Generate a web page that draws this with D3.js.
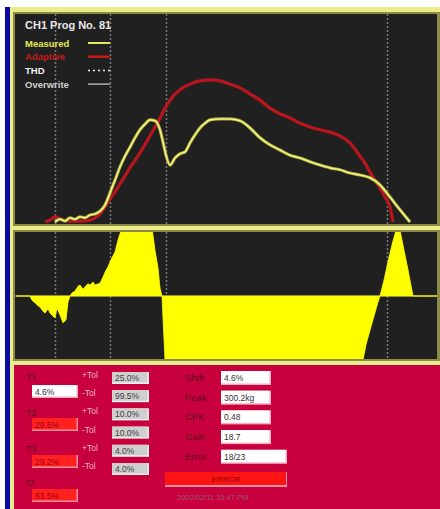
<!DOCTYPE html>
<html><head><meta charset="utf-8">
<script src="https://cdn.jsdelivr.net/npm/d3@7"></script>
<style>html,body{margin:0;padding:0;background:#fff;}svg{display:block;font-family:Arial,"Liberation Sans",sans-serif;}</style>
</head><body>
<svg id="c" width="440" height="509"></svg>
<script>
// ---- data ----
const title = "CH1 Prog No. 81";
const legendNames = ["Measured", "Adaptive", "THD", "Overwrite"];
const gridSamples = [39, 94, 150, 371];

const measuredX = [39,44,49,54,59,64,69,74,79,84,89,94,99,104,109,114,119,124,129,134,139,144,147,150,154,159,164,169,174,179,184,189,194,204,214,224,234,244,254,264,274,284,294,304,314,324,334,344,354,364,374,384,394];
const measuredY = [0,6,2,9,6,11,9,15,17,23,36,62,89,117,140,159,179,196,208,217,215,196,170,142,121,136,145,149,168,185,200,210,217,219,219,215,200,179,164,153,142,136,128,121,115,111,104,100,94,79,53,26,0];

const adaptiveX = [29,34,39,44,54,64,74,79,84,89,94,99,104,114,124,134,144,149,154,164,174,184,194,204,214,224,234,244,254,264,274,284,294,304,314,324,334,339,344,349,354,359,364,369,374,377];
const adaptiveY = [0,4,11,6,2,2,4,9,17,32,49,64,81,115,147,183,221,242,259,281,293,300,302,300,293,285,272,259,242,230,221,210,202,196,191,183,168,155,140,125,106,89,72,53,32,0];

const deviationX = [0,14,16,19,22,24,27,29,32,34,37,39,41,44,47,50,52,54,56,59,62,64,67,69,72,74,77,79,84,87,89,92,94,97,99,102,104,106,136,139,142,144,146,147,149,347,350,354,358,362,364,368,372,376,380,384,388,392,397,421];
const deviationY = [0,0,-7,-11,-16,-18,-25,-28,-21,-28,-33,-36,-20,-31,-44,-39,-10,0,5,8,16,18,11,15,20,18,23,18,21,31,39,48,56,66,72,92,102,112,112,75,46,13,0,-36,-105,-105,-80,-56,-33,-10,0,26,56,84,108,108,75,43,0,0];

const panelLeft = [
  {label:"T1", value:"4.6%", kind:"white"},
  {label:"T2", value:"29.5%", kind:"red"},
  {label:"T3", value:"29.2%", kind:"red"},
  {label:"t0", value:"63.5%", kind:"red"}
];
const tolLabels = ["+Tol","-Tol","+Tol","-Tol","+Tol","-Tol"];
const tolValues = ["25.0%","99.5%","10.0%","10.0%","4.0%","4.0%"];
const statLabels = ["Shift","Peak","CPK","Gain","Error"];
const statValues = ["4.6%","300.2kg","0.48","18.7","18/23"];
const statusText = "ERROR";
const dateText = "2002/02/11 10:47 PM";

// ---- drawing ----
const svg = d3.select("#c");
const x = d3.scaleLinear().domain([0, 421]).range([16, 437]);
const yTop = d3.scaleLinear().domain([0, 440]).range([222, 15]);
const yBot = d3.scaleLinear().domain([-100, 100]).range([357, 235]);

// frame
svg.append("rect").attr("x",5).attr("y",7).attr("width",5).attr("height",502).attr("fill","#0a0aa0");
svg.append("rect").attr("x",10).attr("y",7).attr("width",430).attr("height",502).attr("fill","#ecec8e");
svg.append("rect").attr("x",13).attr("y",12).attr("width",427).attr("height",214).attr("fill","#8c8c44");
svg.append("rect").attr("x",13).attr("y",230).attr("width",427).attr("height",131).attr("fill","#8c8c44");
svg.append("rect").attr("x",15).attr("y",14).attr("width",422).attr("height",210).attr("fill","#202020");
svg.append("rect").attr("x",15).attr("y",232).attr("width",422).attr("height",127).attr("fill","#202020");
svg.append("rect").attr("x",14).attr("y",365).attr("width",426).attr("height",144).attr("fill","#c8003e");

const defs = svg.append("defs");
defs.append("clipPath").attr("id","clipTop").append("rect").attr("x",15).attr("y",14).attr("width",422).attr("height",210);
defs.append("clipPath").attr("id","clipBot").append("rect").attr("x",15).attr("y",232).attr("width",422).attr("height",127);

// grids
const gTop = svg.append("g").attr("clip-path","url(#clipTop)");
const gBot = svg.append("g").attr("clip-path","url(#clipBot)");
[gTop, gBot].forEach((g,i) => {
  g.selectAll("line.grid").data(gridSamples).enter().append("line")
    .attr("x1", d=>x(d)+0.5).attr("x2", d=>x(d)+0.5)
    .attr("y1", i===0?14:232).attr("y2", i===0?224:359)
    .attr("stroke","#7a7a7a").attr("stroke-width",1.5).attr("stroke-dasharray","2,2");
});

// lower deviation area
const dev = deviationX.map((d,i)=>({x:d, y:deviationY[i]}));
gBot.append("line").attr("x1",15).attr("x2",437).attr("y1",yBot(0)).attr("y2",yBot(0)).attr("stroke","#8a8a70").attr("stroke-width",1);
gBot.append("path").datum(dev)
  .attr("d", d3.area().x(d=>x(d.x)).y0(yBot(0)).y1(d=>yBot(d.y)))
  .attr("fill","#ffff00").attr("stroke","#ffff00").attr("stroke-width",0.8);

// upper curves
const meas = measuredX.map((d,i)=>({x:d, y:measuredY[i]}));
const adap = adaptiveX.map((d,i)=>({x:d, y:adaptiveY[i]}));
const line = d3.line().x(d=>x(d.x)).y(d=>yTop(d.y)).curve(d3.curveMonotoneX);
gTop.append("path").datum(adap).attr("d",line).attr("fill","none").attr("stroke","#b8161c").attr("stroke-width",3.2).attr("stroke-linejoin","round");
gTop.append("path").datum(meas).attr("d",line).attr("fill","none").attr("stroke","#a4a440").attr("stroke-width",3.2).attr("stroke-linejoin","round");
gTop.append("path").datum(meas).attr("d",line).attr("fill","none").attr("stroke","#f2f27c").attr("stroke-width",1.6).attr("stroke-linejoin","round");

// legend
svg.append("text").attr("x",25).attr("y",29).attr("fill","#e8e8e8").attr("font-weight","bold").attr("font-size",11).text(title);
const legColors = ["#e6e65a","#c81818","#f0f0f0","#cfcfcf"];
const legDash = [null,null,"2,3",null];
const legWidth = [2,2.5,1.5,1.2];
legendNames.forEach((n,i)=>{
  const yy = 43 + i*13.7;
  svg.append("text").attr("x",25).attr("y",yy+3.5).attr("fill",legColors[i]).attr("font-weight","bold").attr("font-size",9.5).text(n);
  svg.append("line").attr("x1",88).attr("x2",110).attr("y1",yy).attr("y2",yy)
    .attr("stroke",legColors[i]).attr("stroke-width",legWidth[i]).attr("stroke-dasharray",legDash[i]);
});

// panel
const panel = svg.append("g").attr("font-size",9);
function box(px, py, w, h, fill, txt, txtColor, border){
  panel.append("rect").attr("x",px).attr("y",py).attr("width",w).attr("height",h).attr("fill",border);
  panel.append("rect").attr("x",px).attr("y",py).attr("width",w-1.5).attr("height",h-1.5).attr("fill",fill);
  panel.append("text").attr("x",px+3).attr("y",py+h/2+3).attr("fill",txtColor).attr("font-size",8.5).text(txt);
}
const labelColor = "#5e0a22";
const leftRows = [377, 413, 449, 483];
const leftBoxes = [385, 418, 455, 489];
panelLeft.forEach((d,i)=>{
  panel.append("text").attr("x",26).attr("y",leftRows[i]+3).attr("fill",labelColor).text(d.label);
  if(d.kind==="white") box(32, leftBoxes[i], 46, 13, "#ffffff", d.value, "#333", "#f4b0c0");
  else box(32, leftBoxes[i], 46, 13, "#ff2020", d.value, "#a00010", "#ff90a0");
});
tolLabels.forEach((t,i)=>{
  const yy = 375 + i*18.2;
  panel.append("text").attr("x",82).attr("y",yy+3).attr("fill","#e8b8c4").attr("font-size",8.5).text(t);
  box(112, yy-3, 37, 12, "#cfcfcf", tolValues[i], "#404040", "#f0f0f0");
});
statLabels.forEach((t,i)=>{
  const yy = 378 + i*19.7;
  panel.append("text").attr("x",185).attr("y",yy+3).attr("fill",labelColor).attr("font-size",9.5).text(t);
  box(221, yy-7, i===4?66:50, 14, "#ffffff", statValues[i], "#333", "#f4b0c0");
});
panel.append("rect").attr("x",165).attr("y",472).attr("width",122).attr("height",15).attr("fill","#ff90a0");
panel.append("rect").attr("x",165).attr("y",472).attr("width",121).attr("height",13).attr("fill","#ff1414");
panel.append("text").attr("x",226).attr("y",481.5).attr("text-anchor","middle").attr("fill","#8a0010").attr("font-size",8).text(statusText);
panel.append("text").attr("x",177).attr("y",500).attr("fill","#9a5a72").attr("font-size",7.5).text(dateText);
</script>
</body></html>
